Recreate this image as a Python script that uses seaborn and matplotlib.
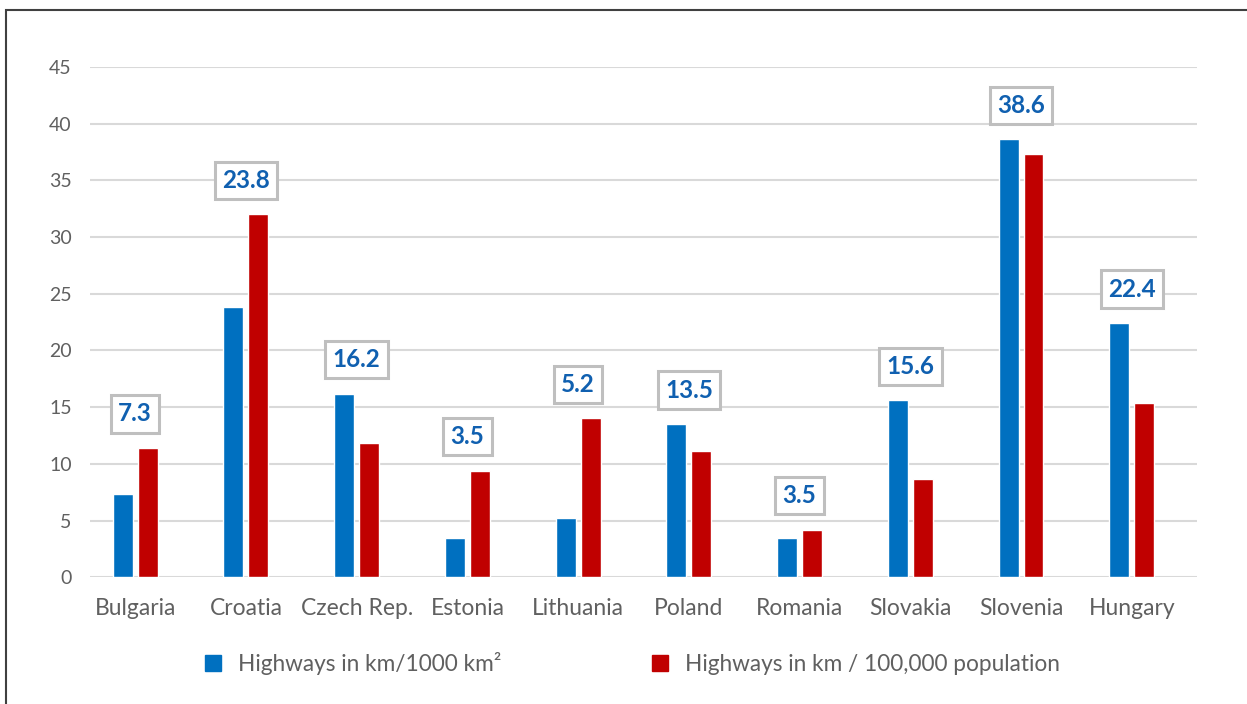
import matplotlib
matplotlib.use('Agg')
import matplotlib.pyplot as plt
import matplotlib.patches as mpatches
from matplotlib.lines import Line2D
import seaborn as sns
import pandas as pd

# Data
countries = ['Bulgaria', 'Croatia', 'Czech Rep.', 'Estonia', 'Lithuania',
             'Poland', 'Romania', 'Slovakia', 'Slovenia', 'Hungary']
per_area = [7.3, 23.8, 16.2, 3.5, 5.2, 13.5, 3.5, 15.6, 38.6, 22.4]
per_pop = [11.4, 32.0, 11.8, 9.4, 14.0, 11.1, 4.2, 8.7, 37.3, 15.4]
series_names = ['Highways in km/1000 km\u00b2', 'Highways in km / 100,000 population']
y_ticks = [0, 5, 10, 15, 20, 25, 30, 35, 40, 45]

blue = '#0070C0'
red = '#C00000'
grey_text = '#606060'

df = pd.DataFrame({
    'country': countries * 2,
    'value': per_area + per_pop,
    'series': [series_names[0]] * len(countries) + [series_names[1]] * len(countries),
})

sns.set_style('white')
plt.rcParams['font.family'] = ['Lato', 'DejaVu Sans']

fig = plt.figure(figsize=(12.47, 7.04), dpi=100)
ax = fig.add_axes([0.072, 0.180, 0.888, 0.725])

sns.barplot(data=df, x='country', y='value', hue='series',
            palette=[blue, red], saturation=1, width=0.45, gap=0.2,
            legend=False, ax=ax, zorder=3)

ax.set_ylim(0, 45)
ax.set_xlim(-0.41, len(countries) - 0.41)
ax.set_yticks(y_ticks)
ax.yaxis.grid(True, color='#D9D9D9', linewidth=1.5, zorder=0)
ax.set_axisbelow(True)
for s in ax.spines.values():
    s.set_visible(False)
ax.set_xlabel('')
ax.set_ylabel('')
ax.tick_params(axis='x', labelsize=16.5, colors=grey_text, length=0, pad=15)
ax.tick_params(axis='y', labelsize=14, colors=grey_text, length=0, pad=13)

# Value boxes above each group (blue series)
for i, (a, p) in enumerate(zip(per_area, per_pop)):
    ax.annotate(f'{a}', xy=(i, max(a, p)), xytext=(0, 34),
                textcoords='offset pixels',
                ha='center', va='center', fontsize=17.5, fontweight='bold',
                color='#1060B0', annotation_clip=False,
                bbox=dict(boxstyle='square,pad=0.3', fc='white',
                          ec='#BFBFBF', lw=2.2))

# Legend
handles = [Line2D([], [], marker='s', linestyle='none', markersize=11,
                  color=c) for c in (blue, red)]
fig.legend(handles, series_names, loc='center', ncol=2,
           bbox_to_anchor=(0.506, 0.058), frameon=False, fontsize=16.3,
           labelcolor=grey_text, columnspacing=6.5, handletextpad=0.6,
           handlelength=1.0)

# Outer frame
frame = mpatches.Rectangle((0.0048, -0.05), 1.1, 1.036, transform=fig.transFigure,
                           fill=False, ec='#404040', lw=1.5)
fig.patches.append(frame)

fig.savefig('out.png', dpi=100)
